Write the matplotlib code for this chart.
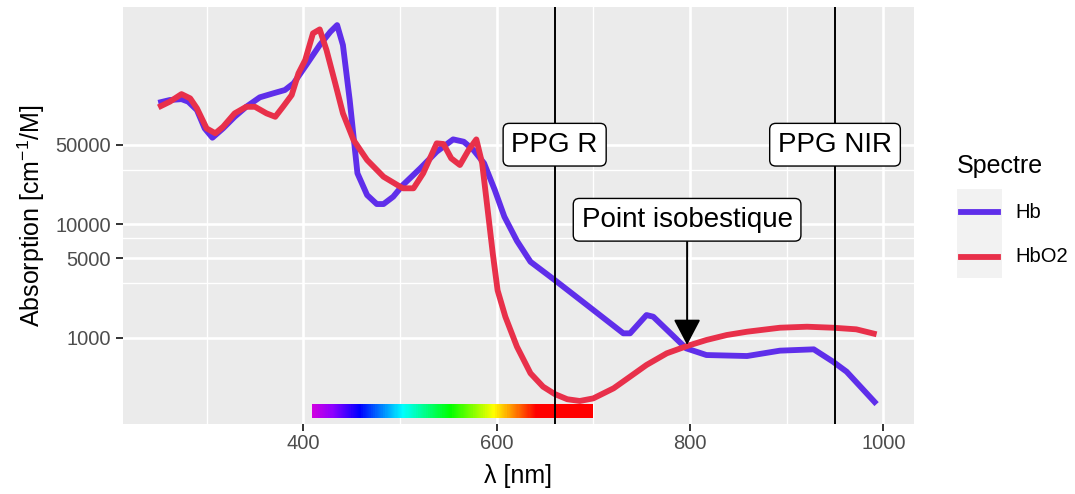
import numpy as np
import matplotlib
matplotlib.use("Agg")
import matplotlib.pyplot as plt
from matplotlib.colors import LinearSegmentedColormap, Normalize
from matplotlib.patches import Rectangle
from matplotlib.lines import Line2D
from matplotlib.ticker import FixedLocator, NullFormatter, FixedFormatter

plt.rcParams['font.family'] = ['Liberation Sans', 'DejaVu Sans']
plt.rcParams['mathtext.fontset'] = 'custom'
plt.rcParams['mathtext.rm'] = 'Liberation Sans'
plt.rcParams['mathtext.it'] = 'Liberation Sans:italic'

# ---------------- data ----------------
hb_nm = [250, 262, 274, 281, 290, 298, 306, 317, 329, 341, 355, 369, 381, 390,
         403, 417, 428, 435, 441, 448, 456, 466, 476, 483, 493, 503, 521, 538,
         555, 566, 576, 587, 598, 608, 621, 635, 660, 689, 731, 738, 755, 762,
         796, 817, 859, 893, 928, 948, 962, 993]
hb_val = [117000, 123800, 126000, 119700, 100900, 69600, 57600, 69600, 88100,
          107900, 130700, 141800, 151700, 173800, 251700, 377500, 494000, 566000,
          377500, 123800, 28000, 18000, 15000, 15000, 17400, 22060, 30960, 43400,
          55700, 53100, 44900, 34300, 20000, 11600, 7100, 4650, 3213, 2067, 1089,
          1089, 1578, 1525, 803, 701, 687, 766, 787, 612, 500, 259]

hbo2_nm = [250, 262, 274, 283, 290, 300, 309, 317, 329, 341, 350, 362, 371, 379,
           388, 395, 402, 410, 417, 424, 433, 441, 452, 466, 483, 503, 514, 524,
           538, 545, 553, 562, 571, 579, 585, 590, 596, 601, 609, 621, 635, 648,
           660, 673, 686, 700, 721, 738, 755, 776, 797, 817, 838, 859, 893, 921,
           948, 972, 993]
hbo2_val = [106700, 119700, 139600, 128000, 104500, 69600, 63000, 71900, 94400,
            107900, 107900, 94400, 88100, 107900, 136900, 212800, 278700, 478600,
            518600, 341000, 173900, 94400, 54900, 36650, 26100, 20640, 20640,
            27990, 51400, 50700, 37930, 33100, 44900, 55700, 34300, 15000, 5500,
            2600, 1525, 830, 484, 369, 318, 286, 276, 291, 357, 452, 573, 726,
            842, 951, 1052, 1125, 1220, 1245, 1220, 1181, 1067]

series_names = ['Hb', 'HbO2']
series_colors = ['#5F2EEA', '#E8304A']

ppg_nm = [660, 950]
ppg_labels = ['PPG R', 'PPG NIR']
ppg_label_y = 50000

iso_nm = 797
iso_val = 860
iso_label_y = 10900
iso_label = 'Point isobestique'

spectrum_range = [409, 700]
spectrum_y = [196, 259]
spectrum_stops_nm = [409, 430, 458, 503, 552, 597, 641, 700]
spectrum_stops_col = [(0.82, 0.0, 0.88), (0.55, 0.0, 1.0), (0.0, 0.0, 1.0),
                      (0.0, 1.0, 1.0), (0.0, 1.0, 0.0), (1.0, 1.0, 0.0),
                      (1.0, 0.0, 0.0), (1.0, 0.0, 0.0)]

x_major = [400, 600, 800, 1000]
x_minor = [300, 500, 700, 900]
y_major = [1000, 5000, 10000, 50000]
y_major_labels = ['1000', '5000', '10000', '50000']
y_minor = [3000, 7500, 30000]

# ---------------- figure ----------------
W, H = 1075, 494
fig = plt.figure(figsize=(W / 100, H / 100), dpi=100)
px_l, px_r, px_t, px_b = 122.7, 914.0, 6.7, 424.0
ax = fig.add_axes([px_l / W, 1 - px_b / H, (px_r - px_l) / W, (px_b - px_t) / H])
ax.set_facecolor('#EBEBEB')
for s in ax.spines.values():
    s.set_visible(False)

ax.set_yscale('log')
ax.set_xlim(213.2, 1031.7)
ax.set_ylim(173, 822000)

ax.xaxis.set_major_locator(FixedLocator(x_major))
ax.xaxis.set_minor_locator(FixedLocator(x_minor))
ax.xaxis.set_major_formatter(FixedFormatter([str(v) for v in x_major]))
ax.yaxis.set_major_locator(FixedLocator(y_major))
ax.yaxis.set_minor_locator(FixedLocator(y_minor))
ax.yaxis.set_major_formatter(FixedFormatter(y_major_labels))
ax.yaxis.set_minor_formatter(NullFormatter())

ax.tick_params(which='major', length=5, width=1.4, color='#333333',
               labelcolor='#4D4D4D', labelsize=14.5)
ax.tick_params(axis='x', which='major', pad=2)
ax.tick_params(axis='y', which='major', pad=3.5)
ax.tick_params(which='minor', length=0)

ax.set_axisbelow(True)
ax.grid(which='major', color='white', lw=1.9)
ax.grid(which='minor', color='white', lw=0.95)

# spectrum bar
cmap = LinearSegmentedColormap.from_list(
    'spec', [((n - spectrum_stops_nm[0]) / (spectrum_stops_nm[-1] - spectrum_stops_nm[0]), c)
             for n, c in zip(spectrum_stops_nm, spectrum_stops_col)])
xe = np.linspace(spectrum_range[0], spectrum_range[1], 400)
xc = 0.5 * (xe[1:] + xe[:-1])
ax.pcolormesh(xe, spectrum_y, xc[np.newaxis, :], cmap=cmap,
              norm=Normalize(spectrum_stops_nm[0], spectrum_stops_nm[-1]),
              shading='flat', zorder=2)

# curves
ax.plot(hb_nm, hb_val, color=series_colors[0], lw=4.2, solid_joinstyle='round',
        solid_capstyle='butt', zorder=3)
ax.plot(hbo2_nm, hbo2_val, color=series_colors[1], lw=4.2, solid_joinstyle='round',
        solid_capstyle='butt', zorder=3)

# vertical lines
for xv in ppg_nm:
    ax.axvline(xv, color='black', lw=1.4, zorder=4)

bbox = dict(boxstyle='round,pad=0.3,rounding_size=0.22', fc='white', ec='black', lw=1.0)
for xv, lab in zip(ppg_nm, ppg_labels):
    ax.text(xv, ppg_label_y, lab, ha='center', va='center', fontsize=20,
            bbox=bbox, zorder=6)

ax.annotate(iso_label, xy=(iso_nm, iso_val), xytext=(iso_nm, iso_label_y),
            ha='center', va='center', fontsize=20, bbox=bbox, zorder=6,
            arrowprops=dict(arrowstyle='-|>,head_length=0.8,head_width=0.42',
                            color='black', lw=1.4, shrinkA=0, shrinkB=0))

# axis titles
fig.text(518.4 / W, 1 - 476 / H, 'λ [nm]', ha='center', va='center', fontsize=18)
fig.text(31 / W, 1 - 215.5 / H, r'Absorption [cm$^{-1}$/M]', ha='center',
         va='center', rotation=90, fontsize=18)

# legend (manual, ggplot-like)
fig.text(957 / W, 1 - 173.5 / H, 'Spectre', ha='left', va='baseline', fontsize=18)
fig.patches.append(Rectangle((957 / W, 1 - 278.3 / H), 45 / W, 89 / H,
                             transform=fig.transFigure, fc='#F2F2F2', ec='none'))
for i, (name, col) in enumerate(zip(series_names, series_colors)):
    yk = 212 + 45 * i
    fig.lines.append(Line2D([961 / W, 998 / W], [1 - yk / H, 1 - yk / H],
                            transform=fig.transFigure, color=col, lw=4.2))
    fig.text(1015 / W, 1 - yk / H, name, ha='left', va='center', fontsize=14.5)

fig.savefig('out.png', dpi=100, facecolor='white')
